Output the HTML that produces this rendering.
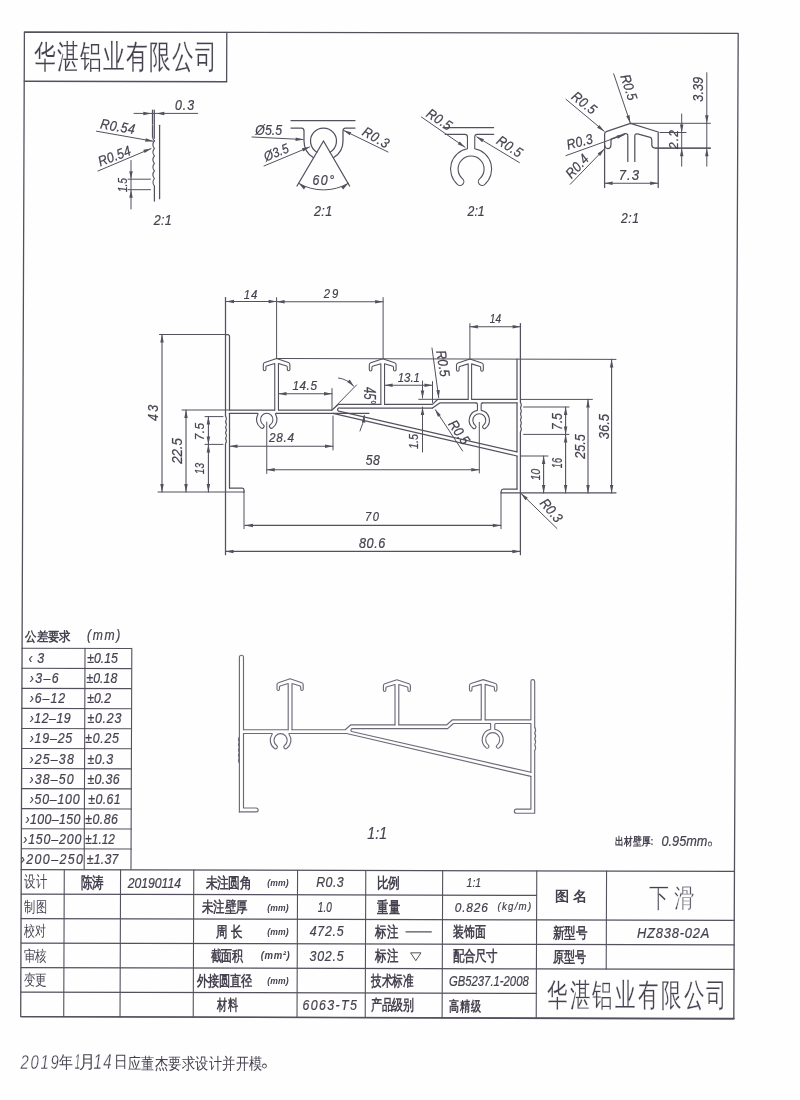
<!DOCTYPE html>
<html><head><meta charset="utf-8"><style>
html,body{margin:0;padding:0;background:#fefefe;}
svg{display:block;font-family:"Liberation Sans",sans-serif;}
</style></head><body>
<svg width="800" height="1100" viewBox="0 0 800 1100">
<rect width="800" height="1100" fill="#fefefe"/>
<g stroke-linecap="round">
<polygon points="24.4,32 738.2,33.3 733.8,1019 20.7,1016.6" fill="none" stroke="#55505e" stroke-width="1.3" stroke-linejoin="round"/>
<line x1="24.3" y1="81.25" x2="226.7" y2="81.75" stroke="#55505e" stroke-width="1.3"/>
<line x1="226.79" y1="32.4" x2="226.61" y2="81.5" stroke="#55505e" stroke-width="1.3"/>
<line x1="21.8" y1="648.25" x2="131.4" y2="648.53" stroke="#55505e" stroke-width="1.1"/>
<line x1="21.8" y1="668.3" x2="131.4" y2="668.58" stroke="#55505e" stroke-width="1.1"/>
<line x1="21.8" y1="688.35" x2="131.4" y2="688.63" stroke="#55505e" stroke-width="1.1"/>
<line x1="21.8" y1="708.4" x2="131.4" y2="708.68" stroke="#55505e" stroke-width="1.1"/>
<line x1="21.8" y1="728.45" x2="131.4" y2="728.73" stroke="#55505e" stroke-width="1.1"/>
<line x1="21.8" y1="748.5" x2="131.4" y2="748.78" stroke="#55505e" stroke-width="1.1"/>
<line x1="21.8" y1="768.55" x2="131.4" y2="768.83" stroke="#55505e" stroke-width="1.1"/>
<line x1="21.8" y1="788.6" x2="131.4" y2="788.88" stroke="#55505e" stroke-width="1.1"/>
<line x1="21.8" y1="808.65" x2="131.4" y2="808.93" stroke="#55505e" stroke-width="1.1"/>
<line x1="21.8" y1="828.7" x2="131.4" y2="828.98" stroke="#55505e" stroke-width="1.1"/>
<line x1="21.8" y1="848.75" x2="131.4" y2="849.03" stroke="#55505e" stroke-width="1.1"/>
<line x1="85.02" y1="648.4" x2="84.18" y2="869" stroke="#55505e" stroke-width="1.1"/>
<line x1="131.82" y1="648.4" x2="130.98" y2="869" stroke="#55505e" stroke-width="1.1"/>
<line x1="21.2" y1="869.6" x2="734.2" y2="871.38" stroke="#55505e" stroke-width="1.3"/>
<line x1="21.2" y1="1016.6" x2="734.2" y2="1018.38" stroke="#55505e" stroke-width="1.3"/>
<line x1="21.2" y1="894.1" x2="536.5" y2="895.39" stroke="#55505e" stroke-width="1.25"/>
<line x1="21.2" y1="918.6" x2="536.5" y2="919.89" stroke="#55505e" stroke-width="1.25"/>
<line x1="21.2" y1="943.1" x2="536.5" y2="944.39" stroke="#55505e" stroke-width="1.25"/>
<line x1="21.2" y1="967.6" x2="536.5" y2="968.89" stroke="#55505e" stroke-width="1.25"/>
<line x1="21.2" y1="992.1" x2="536.5" y2="993.39" stroke="#55505e" stroke-width="1.25"/>
<line x1="536.5" y1="919.89" x2="734.2" y2="920.38" stroke="#55505e" stroke-width="1.25"/>
<line x1="536.5" y1="944.39" x2="734.2" y2="944.88" stroke="#55505e" stroke-width="1.25"/>
<line x1="536.5" y1="968.89" x2="734.2" y2="969.38" stroke="#55505e" stroke-width="1.25"/>
<line x1="64.28" y1="869.71" x2="63.72" y2="1016.71" stroke="#55505e" stroke-width="1.1"/>
<line x1="120.58" y1="869.85" x2="120.02" y2="1016.85" stroke="#55505e" stroke-width="1.1"/>
<line x1="193.78" y1="870.03" x2="193.22" y2="1017.03" stroke="#55505e" stroke-width="1.1"/>
<line x1="297.58" y1="870.29" x2="297.02" y2="1017.29" stroke="#55505e" stroke-width="1.1"/>
<line x1="365.78" y1="870.46" x2="365.22" y2="1017.46" stroke="#55505e" stroke-width="1.1"/>
<line x1="442.67" y1="870.65" x2="442.12" y2="1017.65" stroke="#55505e" stroke-width="1.1"/>
<line x1="536.77" y1="870.89" x2="536.22" y2="1017.89" stroke="#55505e" stroke-width="1.1"/>
<line x1="606.57" y1="871.06" x2="606.2" y2="969.06" stroke="#55505e" stroke-width="1.1"/>
<line x1="406" y1="931.85" x2="431.3" y2="931.95" stroke="#55505e" stroke-width="1.25"/>
<polygon points="411,952.84 421,952.84 416,960.34" fill="none" stroke="#55505e" stroke-width="1.0" stroke-linejoin="round"/>
<line x1="134" y1="113.4" x2="197.7" y2="113.4" stroke="#55505e" stroke-width="1.0"/>
<polygon points="151.3,113.4 143.3,115.15 143.3,111.65" fill="#55505e"/>
<polygon points="156.3,113.4 164.3,111.65 164.3,115.15" fill="#55505e"/>
<line x1="152.5" y1="110" x2="152.5" y2="124.2" stroke="#55505e" stroke-width="1.25"/>
<line x1="152.5" y1="125.6" x2="152.5" y2="136.3" stroke="#55505e" stroke-width="1.25"/>
<line x1="154.3" y1="110" x2="154.3" y2="138.2" stroke="#55505e" stroke-width="1.25"/>
<path d="M152.5,136.3 Q152.7,139.5 154.4,140.8" fill="none" stroke="#55505e" stroke-width="1.25" stroke-linejoin="round" stroke-linecap="round"/>
<line x1="159.6" y1="125.3" x2="159.6" y2="198.7" stroke="#55505e" stroke-width="1.25"/>
<path d="M154.4,140.8 Q151.4,144.57 154.4,148.33 Q151.4,152.1 154.4,155.87 Q151.4,159.63 154.4,163.4 Q151.4,167.17 154.4,170.93 Q151.4,174.7 154.4,178.47 Q151.4,182.23 154.4,186" fill="none" stroke="#55505e" stroke-width="1.1" stroke-linejoin="round" stroke-linecap="round"/>
<line x1="154.4" y1="186" x2="154.4" y2="201" stroke="#55505e" stroke-width="1.25"/>
<line x1="96.5" y1="131.2" x2="153" y2="141.2" stroke="#55505e" stroke-width="1.0"/>
<polygon points="153.4,141.3 145.22,141.67 145.81,138.22" fill="#55505e"/>
<line x1="98" y1="171" x2="151" y2="148.6" stroke="#55505e" stroke-width="1.0"/>
<polygon points="151.4,148.5 144.6,153.07 143.32,149.81" fill="#55505e"/>
<line x1="131" y1="160.5" x2="131" y2="209" stroke="#55505e" stroke-width="1.0"/>
<polygon points="131,179.2 129.25,171.2 132.75,171.2" fill="#55505e"/>
<polygon points="131,189.7 132.75,197.7 129.25,197.7" fill="#55505e"/>
<line x1="128" y1="179.2" x2="150.5" y2="179.2" stroke="#55505e" stroke-width="1.0"/>
<line x1="128" y1="189.7" x2="150.5" y2="189.7" stroke="#55505e" stroke-width="1.0"/>
<line x1="291" y1="120.5" x2="355" y2="120.5" stroke="#55505e" stroke-width="1.25"/>
<path d="M291,128 H301.5 Q304,128 304,131 V141 A19.5,19.5 0 0 0 313.6,157.8" fill="none" stroke="#55505e" stroke-width="1.25" stroke-linejoin="round" stroke-linecap="round"/>
<path d="M355,128 H345.5 Q343,128 343,131 V141 A19.5,19.5 0 0 1 333.4,157.8" fill="none" stroke="#55505e" stroke-width="1.25" stroke-linejoin="round" stroke-linecap="round"/>
<path d="M316.9,152.2 A13,13 0 1 1 330.1,152.2" fill="none" stroke="#55505e" stroke-width="1.25" stroke-linejoin="round" stroke-linecap="round"/>
<line x1="323.5" y1="141" x2="297" y2="186" stroke="#55505e" stroke-width="1.25"/>
<line x1="323.5" y1="141" x2="349.6" y2="186" stroke="#55505e" stroke-width="1.25"/>
<path d="M298.63,183.22 A49,49 0 0 0 348.37,183.22" fill="none" stroke="#55505e" stroke-width="1.0" stroke-linejoin="round" stroke-linecap="round"/>
<polygon points="298.63,183.22 306,186.79 303.84,189.54" fill="#55505e"/>
<polygon points="348.37,183.22 343.16,189.54 341,186.79" fill="#55505e"/>
<line x1="252" y1="137" x2="303" y2="139.5" stroke="#55505e" stroke-width="1.0"/>
<polygon points="303.6,139.6 295.52,140.93 295.7,137.44" fill="#55505e"/>
<line x1="264" y1="166" x2="309.5" y2="147" stroke="#55505e" stroke-width="1.0"/>
<polygon points="310,146.8 303.26,151.45 301.93,148.21" fill="#55505e"/>
<line x1="388" y1="152" x2="344" y2="130.6" stroke="#55505e" stroke-width="1.0"/>
<polygon points="343.3,130.3 351.26,132.21 349.74,135.36" fill="#55505e"/>
<line x1="443" y1="127.5" x2="493.6" y2="127.5" stroke="#55505e" stroke-width="1.25"/>
<path d="M464.85,134.4 Q467.45,134.4 467.45,137 V148.73 A20.6,20.6 0 0 0 457.59,184.55 A3.8,3.8 0 0 0 462.57,178.81 A13,13 0 1 1 479.63,178.81 A3.8,3.8 0 0 0 484.61,184.55 A20.6,20.6 0 0 0 474.75,148.73 V137 Q474.75,134.4 477.35,134.4" fill="none" stroke="#55505e" stroke-width="1.1" stroke-linejoin="round" stroke-linecap="round"/>
<line x1="445.3" y1="134.4" x2="464.55" y2="134.4" stroke="#55505e" stroke-width="1.25"/>
<line x1="477.5" y1="134.4" x2="493.6" y2="134.4" stroke="#55505e" stroke-width="1.25"/>
<line x1="421.4" y1="117" x2="465" y2="147.2" stroke="#55505e" stroke-width="1.0"/>
<polygon points="465.3,147.4 457.72,144.31 459.7,141.42" fill="#55505e"/>
<line x1="519.4" y1="162.6" x2="477" y2="137" stroke="#55505e" stroke-width="1.0"/>
<polygon points="476.2,136.6 483.96,139.23 482.15,142.23" fill="#55505e"/>
<path d="M604.6,187.5 V134.2 Q604.6,132 606.8,131.3 L630.5,123.3 L658.2,132 V187.5" fill="none" stroke="#55505e" stroke-width="1.25" stroke-linejoin="round" stroke-linecap="round"/>
<path d="M604.6,144.8 Q605,148.6 607.8,148.6 Q610.8,148.6 611,144.5 V139.2 L625,133.6 Q627.8,133.2 627.8,136 V161.4" fill="none" stroke="#55505e" stroke-width="1.25" stroke-linejoin="round" stroke-linecap="round"/>
<path d="M634.8,161.4 V136 Q634.8,133.3 637.6,133.9 L650.3,137.4 Q651.6,137.9 651.8,140 V145.4 Q652.4,148.2 655.6,148.2 H710.4" fill="none" stroke="#55505e" stroke-width="1.25" stroke-linejoin="round" stroke-linecap="round"/>
<line x1="630.5" y1="123.3" x2="710.4" y2="123.3" stroke="#55505e" stroke-width="1.0"/>
<line x1="660" y1="132.5" x2="686" y2="132.5" stroke="#55505e" stroke-width="1.0"/>
<line x1="566" y1="99.3" x2="604.2" y2="131.2" stroke="#55505e" stroke-width="1.0"/>
<polygon points="604.4,131.4 597.11,127.67 599.33,124.97" fill="#55505e"/>
<line x1="613.7" y1="73.8" x2="630.3" y2="123" stroke="#55505e" stroke-width="1.0"/>
<polygon points="630.4,123.2 626.21,116.16 629.53,115.06" fill="#55505e"/>
<line x1="566" y1="155.6" x2="624.5" y2="134.6" stroke="#55505e" stroke-width="1.0"/>
<polygon points="624.8,134.5 617.87,138.86 616.68,135.57" fill="#55505e"/>
<line x1="570.2" y1="184.3" x2="604.2" y2="149.2" stroke="#55505e" stroke-width="1.0"/>
<polygon points="604.4,149 600.07,155.95 597.57,153.51" fill="#55505e"/>
<line x1="604.6" y1="183.2" x2="658.2" y2="183.2" stroke="#55505e" stroke-width="1.1"/>
<polygon points="604.6,183.2 612.6,181.45 612.6,184.95" fill="#55505e"/>
<polygon points="658.2,183.2 650.2,184.95 650.2,181.45" fill="#55505e"/>
<line x1="706.8" y1="72.7" x2="706.8" y2="166.2" stroke="#55505e" stroke-width="1.0"/>
<polygon points="706.8,123.3 705.05,115.3 708.55,115.3" fill="#55505e"/>
<polygon points="706.8,148.2 708.55,156.2 705.05,156.2" fill="#55505e"/>
<line x1="655.6" y1="148.2" x2="710.4" y2="148.2" stroke="#55505e" stroke-width="1.0"/>
<line x1="681.7" y1="114" x2="681.7" y2="166.2" stroke="#55505e" stroke-width="1.0"/>
<polygon points="681.7,132.5 679.95,124.5 683.45,124.5" fill="#55505e"/>
<polygon points="681.7,148.2 683.45,156.2 679.95,156.2" fill="#55505e"/>
<line x1="225.5" y1="297.6" x2="225.5" y2="416" stroke="#55505e" stroke-width="1.25"/>
<path d="M225.5,416 Q227.3,418.8 225.5,421.6 Q227.3,424.4 225.5,427.2 Q227.3,430 225.5,432.8 Q227.3,435.6 225.5,438.4 Q227.3,441.2 225.5,444" fill="none" stroke="#55505e" stroke-width="1.1" stroke-linejoin="round" stroke-linecap="round"/>
<line x1="225.5" y1="444" x2="225.5" y2="554.7" stroke="#55505e" stroke-width="1.25"/>
<path d="M225.5,334.5 H227.6 Q229.5,334.5 229.5,336.6 V410" fill="none" stroke="#55505e" stroke-width="1.25" stroke-linejoin="round" stroke-linecap="round"/>
<line x1="229.5" y1="413.3" x2="229.5" y2="488" stroke="#55505e" stroke-width="1.25"/>
<path d="M229.5,488 H242.2 Q244,488.2 244,490 V492" fill="none" stroke="#55505e" stroke-width="1.25" stroke-linejoin="round" stroke-linecap="round"/>
<line x1="244" y1="492" x2="244" y2="528.7" stroke="#55505e" stroke-width="1.0"/>
<line x1="158" y1="492" x2="244" y2="492" stroke="#55505e" stroke-width="1.0"/>
<line x1="159.5" y1="334.5" x2="225.5" y2="334.5" stroke="#55505e" stroke-width="1.0"/>
<line x1="229.5" y1="410" x2="274.8" y2="410" stroke="#55505e" stroke-width="1.25"/>
<path d="M278.5,410 H332 L338.5,404.4 H380.8" fill="none" stroke="#55505e" stroke-width="1.25" stroke-linejoin="round" stroke-linecap="round"/>
<path d="M257.09,413.3 Q258.59,413.3 257.87,414.39 A10.25,10.25 0 0 0 260.87,427.9 A2.02,2.02 0 0 0 263.19,424.58 A6.2,6.2 0 1 1 270.31,424.58 A2.02,2.02 0 0 0 272.63,427.9 A10.25,10.25 0 0 0 275.63,414.39 Q274.91,413.3 276.41,413.3" fill="none" stroke="#55505e" stroke-width="1.1" stroke-linejoin="round" stroke-linecap="round"/>
<line x1="229.5" y1="413.3" x2="257.09" y2="413.3" stroke="#55505e" stroke-width="1.25"/>
<line x1="276.41" y1="413.3" x2="369" y2="413.3" stroke="#55505e" stroke-width="1.25"/>
<line x1="333" y1="413.3" x2="517" y2="456" stroke="#55505e" stroke-width="1.25"/>
<path d="M432.5,408 H340 A1.7,1.7 0 0 0 338.7,411.2 L517,451.9" fill="none" stroke="#55505e" stroke-width="1.25" stroke-linejoin="round" stroke-linecap="round"/>
<path d="M384.6,404.4 H432.5 L437.8,399.3 H468.1" fill="none" stroke="#55505e" stroke-width="1.25" stroke-linejoin="round" stroke-linecap="round"/>
<line x1="471.7" y1="399.3" x2="517" y2="399.3" stroke="#55505e" stroke-width="1.25"/>
<path d="M432.5,408 L439.7,402.9 H476" fill="none" stroke="#55505e" stroke-width="1.25" stroke-linejoin="round" stroke-linecap="round"/>
<path d="M476.05,402.9 Q477.45,402.9 477.45,404.3 V410.37 A10.1,10.1 0 0 0 473.08,428.26 A1.8,1.8 0 0 0 475.3,425.42 A6.5,6.5 0 1 1 483.3,425.42 A1.8,1.8 0 0 0 485.52,428.26 A10.1,10.1 0 0 0 481.15,410.37 V404.3 Q481.15,402.9 482.55,402.9" fill="none" stroke="#55505e" stroke-width="1.1" stroke-linejoin="round" stroke-linecap="round"/>
<line x1="482.55" y1="402.9" x2="517" y2="402.9" stroke="#55505e" stroke-width="1.25"/>
<path d="M274.75,410 V363.5 L266.5,366.1 Q265.9,366.4 265.9,367.5 V369.3 Q265.9,370.8 264.6,370.8 Q263.3,370.8 263.3,369.3 V364.7 Q263.3,363.1 264.8,362.6 L276.6,358.5 L288.4,362.6 Q289.9,363.1 289.9,364.7 V369.3 Q289.9,370.8 288.6,370.8 Q287.3,370.8 287.3,369.3 V367.5 Q287.3,366.4 286.7,366.1 L278.45,363.5 V410" fill="none" stroke="#55505e" stroke-width="1.1" stroke-linejoin="round" stroke-linecap="round"/>
<path d="M380.85,404.4 V363.7 L372.5,366.3 Q371.9,366.6 371.9,367.7 V369.5 Q371.9,371 370.6,371 Q369.3,371 369.3,369.5 V364.9 Q369.3,363.3 370.8,362.8 L382.7,358.7 L394.6,362.8 Q396.1,363.3 396.1,364.9 V369.5 Q396.1,371 394.8,371 Q393.5,371 393.5,369.5 V367.7 Q393.5,366.6 392.9,366.3 L384.55,363.7 V404.4" fill="none" stroke="#55505e" stroke-width="1.1" stroke-linejoin="round" stroke-linecap="round"/>
<path d="M468.2,399.3 V363.9 L459.7,366.5 Q459.1,366.8 459.1,367.9 V369.7 Q459.1,371.2 457.8,371.2 Q456.5,371.2 456.5,369.7 V365.1 Q456.5,363.5 458,363 L469.9,358.9 L481.8,363 Q483.3,363.5 483.3,365.1 V369.7 Q483.3,371.2 482,371.2 Q480.7,371.2 480.7,369.7 V367.9 Q480.7,366.8 480.1,366.5 L471.6,363.9 V399.3" fill="none" stroke="#55505e" stroke-width="1.1" stroke-linejoin="round" stroke-linecap="round"/>
<line x1="276.6" y1="358.5" x2="616" y2="359.4" stroke="#55505e" stroke-width="1.0"/>
<line x1="517" y1="359" x2="517" y2="399.3" stroke="#55505e" stroke-width="1.25"/>
<line x1="517" y1="402.9" x2="517" y2="451.9" stroke="#55505e" stroke-width="1.25"/>
<line x1="517" y1="456" x2="517" y2="489" stroke="#55505e" stroke-width="1.25"/>
<line x1="520.4" y1="323.6" x2="520.4" y2="402" stroke="#55505e" stroke-width="1.25"/>
<path d="M520.4,402 Q522.2,405 520.4,408 Q522.2,411 520.4,414 Q522.2,417 520.4,420 Q522.2,423 520.4,426 Q522.2,429 520.4,432" fill="none" stroke="#55505e" stroke-width="1.1" stroke-linejoin="round" stroke-linecap="round"/>
<line x1="520.4" y1="432" x2="520.4" y2="554.7" stroke="#55505e" stroke-width="1.25"/>
<path d="M517,489 H503.4 Q501.5,489 501.2,491 L501,492.8 H616" fill="none" stroke="#55505e" stroke-width="1.25" stroke-linejoin="round" stroke-linecap="round"/>
<line x1="501" y1="492.8" x2="501" y2="528.7" stroke="#55505e" stroke-width="1.0"/>
<line x1="276.6" y1="297.6" x2="276.6" y2="358.5" stroke="#55505e" stroke-width="1.0"/>
<line x1="383.1" y1="297.6" x2="383.1" y2="358.7" stroke="#55505e" stroke-width="1.0"/>
<line x1="469.9" y1="323.6" x2="469.9" y2="358.9" stroke="#55505e" stroke-width="1.0"/>
<line x1="226" y1="301.5" x2="276.6" y2="301.5" stroke="#55505e" stroke-width="1.1"/>
<polygon points="226,301.5 234,299.75 234,303.25" fill="#55505e"/>
<polygon points="276.6,301.5 268.6,303.25 268.6,299.75" fill="#55505e"/>
<line x1="276.6" y1="301.8" x2="383.1" y2="301.8" stroke="#55505e" stroke-width="1.1"/>
<polygon points="276.6,301.8 284.6,300.05 284.6,303.55" fill="#55505e"/>
<polygon points="383.1,301.8 375.1,303.55 375.1,300.05" fill="#55505e"/>
<line x1="469.9" y1="326.7" x2="520.6" y2="326.7" stroke="#55505e" stroke-width="1.1"/>
<polygon points="469.9,326.7 477.9,324.95 477.9,328.45" fill="#55505e"/>
<polygon points="520.6,326.7 512.6,328.45 512.6,324.95" fill="#55505e"/>
<line x1="162" y1="334.5" x2="162" y2="492" stroke="#55505e" stroke-width="1.1"/>
<polygon points="162,334.5 163.75,342.5 160.25,342.5" fill="#55505e"/>
<polygon points="162,492 160.25,484 163.75,484" fill="#55505e"/>
<line x1="186" y1="410" x2="186" y2="492" stroke="#55505e" stroke-width="1.1"/>
<polygon points="186,410 187.75,418 184.25,418" fill="#55505e"/>
<polygon points="186,492 184.25,484 187.75,484" fill="#55505e"/>
<line x1="182" y1="410" x2="229.5" y2="410" stroke="#55505e" stroke-width="1.0"/>
<line x1="208.4" y1="416.6" x2="208.4" y2="444.4" stroke="#55505e" stroke-width="1.1"/>
<polygon points="208.4,416.6 210.15,424.6 206.65,424.6" fill="#55505e"/>
<polygon points="208.4,444.4 206.65,436.4 210.15,436.4" fill="#55505e"/>
<line x1="208.4" y1="444.4" x2="208.4" y2="492" stroke="#55505e" stroke-width="1.1"/>
<polygon points="208.4,444.4 210.15,452.4 206.65,452.4" fill="#55505e"/>
<polygon points="208.4,492 206.65,484 210.15,484" fill="#55505e"/>
<line x1="205" y1="416.6" x2="223" y2="416.6" stroke="#55505e" stroke-width="1.0"/>
<line x1="205" y1="444.4" x2="223" y2="444.4" stroke="#55505e" stroke-width="1.0"/>
<line x1="278.5" y1="393.7" x2="332" y2="393.7" stroke="#55505e" stroke-width="1.1"/>
<polygon points="278.5,393.7 286.5,391.95 286.5,395.45" fill="#55505e"/>
<polygon points="332,393.7 324,395.45 324,391.95" fill="#55505e"/>
<line x1="332" y1="388.6" x2="332" y2="410" stroke="#55505e" stroke-width="1.0"/>
<line x1="332" y1="410" x2="356.5" y2="385" stroke="#55505e" stroke-width="1.0"/>
<path d="M338.5,378 Q347.5,379.2 353.6,386" fill="none" stroke="#55505e" stroke-width="1.0" stroke-linejoin="round" stroke-linecap="round"/>
<polygon points="354,386.5 347.2,381.93 349.73,379.51" fill="#55505e"/>
<path d="M360,431 Q363.2,424 364.3,415.5" fill="none" stroke="#55505e" stroke-width="1.0" stroke-linejoin="round" stroke-linecap="round"/>
<polygon points="364.4,414.5 365.29,422.64 361.81,422.27" fill="#55505e"/>
<line x1="384.6" y1="385.2" x2="432.5" y2="385.2" stroke="#55505e" stroke-width="1.1"/>
<polygon points="384.6,385.2 392.6,383.45 392.6,386.95" fill="#55505e"/>
<polygon points="432.5,385.2 424.5,386.95 424.5,383.45" fill="#55505e"/>
<line x1="432.5" y1="381.6" x2="432.5" y2="402.5" stroke="#55505e" stroke-width="1.0"/>
<line x1="422.5" y1="381" x2="422.5" y2="398" stroke="#55505e" stroke-width="1.0"/>
<polygon points="422.5,398.6 420.75,390.6 424.25,390.6" fill="#55505e"/>
<line x1="422.5" y1="407" x2="422.5" y2="452" stroke="#55505e" stroke-width="1.0"/>
<polygon points="422.5,406.9 424.25,414.9 420.75,414.9" fill="#55505e"/>
<line x1="418.75" y1="399.3" x2="437.8" y2="399.3" stroke="#55505e" stroke-width="1.0"/>
<line x1="432" y1="348" x2="438.7" y2="397.6" stroke="#55505e" stroke-width="1.0"/>
<polygon points="438.75,398.1 436.34,390.27 439.82,389.98" fill="#55505e"/>
<line x1="435.4" y1="409.8" x2="462.6" y2="451" stroke="#55505e" stroke-width="1.0"/>
<polygon points="435,409.2 440.83,414.95 437.9,416.86" fill="#55505e"/>
<line x1="520.4" y1="399.4" x2="592.4" y2="399.4" stroke="#55505e" stroke-width="1.0"/>
<line x1="523.6" y1="407" x2="569" y2="407" stroke="#55505e" stroke-width="1.0"/>
<line x1="523.6" y1="434.4" x2="569" y2="434.4" stroke="#55505e" stroke-width="1.0"/>
<line x1="520.4" y1="456" x2="548" y2="456" stroke="#55505e" stroke-width="1.0"/>
<line x1="611.6" y1="359.4" x2="611.6" y2="493" stroke="#55505e" stroke-width="1.1"/>
<polygon points="611.6,359.4 613.35,367.4 609.85,367.4" fill="#55505e"/>
<polygon points="611.6,493 609.85,485 613.35,485" fill="#55505e"/>
<line x1="588" y1="399.4" x2="588" y2="493" stroke="#55505e" stroke-width="1.1"/>
<polygon points="588,399.4 589.75,407.4 586.25,407.4" fill="#55505e"/>
<polygon points="588,493 586.25,485 589.75,485" fill="#55505e"/>
<line x1="565.6" y1="407" x2="565.6" y2="434.4" stroke="#55505e" stroke-width="1.1"/>
<polygon points="565.6,407 567.35,415 563.85,415" fill="#55505e"/>
<polygon points="565.6,434.4 563.85,426.4 567.35,426.4" fill="#55505e"/>
<line x1="565.6" y1="434.4" x2="565.6" y2="493" stroke="#55505e" stroke-width="1.1"/>
<polygon points="565.6,434.4 567.35,442.4 563.85,442.4" fill="#55505e"/>
<polygon points="565.6,493 563.85,485 567.35,485" fill="#55505e"/>
<line x1="543.6" y1="456" x2="543.6" y2="493" stroke="#55505e" stroke-width="1.1"/>
<polygon points="543.6,456 545.35,464 541.85,464" fill="#55505e"/>
<polygon points="543.6,493 541.85,485 545.35,485" fill="#55505e"/>
<line x1="520.8" y1="493.2" x2="557" y2="528.5" stroke="#55505e" stroke-width="1.0"/>
<polygon points="520.9,493.3 527.83,497.67 525.37,500.16" fill="#55505e"/>
<line x1="229.5" y1="446.2" x2="333" y2="446.2" stroke="#55505e" stroke-width="1.1"/>
<polygon points="229.5,446.2 237.5,444.45 237.5,447.95" fill="#55505e"/>
<polygon points="333,446.2 325,447.95 325,444.45" fill="#55505e"/>
<line x1="333" y1="416" x2="333" y2="450" stroke="#55505e" stroke-width="1.0"/>
<line x1="266.75" y1="469.7" x2="479.25" y2="469.7" stroke="#55505e" stroke-width="1.1"/>
<polygon points="266.75,469.7 274.75,467.95 274.75,471.45" fill="#55505e"/>
<polygon points="479.25,469.7 471.25,471.45 471.25,467.95" fill="#55505e"/>
<line x1="266.75" y1="422" x2="266.75" y2="473.5" stroke="#55505e" stroke-width="1.0"/>
<line x1="479.3" y1="422.3" x2="479.3" y2="473" stroke="#55505e" stroke-width="1.0"/>
<line x1="245" y1="525.4" x2="500.8" y2="525.4" stroke="#55505e" stroke-width="1.1"/>
<polygon points="245,525.4 253,523.65 253,527.15" fill="#55505e"/>
<polygon points="500.8,525.4 492.8,527.15 492.8,523.65" fill="#55505e"/>
<line x1="225.5" y1="551.4" x2="520.4" y2="551.4" stroke="#55505e" stroke-width="1.1"/>
<polygon points="225.5,551.4 233.5,549.65 233.5,553.15" fill="#55505e"/>
<polygon points="520.4,551.4 512.4,553.15 512.4,549.65" fill="#55505e"/>
<path d="M239.4,811.9 V737" fill="none" stroke="#6e6979" stroke-width="1.15" stroke-linejoin="round" stroke-linecap="round"/>
<path d="M239.4,737 Q237.6,739.6 239.4,742.2 Q237.6,744.8 239.4,747.4 Q237.6,750 239.4,752.6 Q237.6,755.2 239.4,757.8 Q237.6,760.4 239.4,763" fill="none" stroke="#6e6979" stroke-width="1.15" stroke-linejoin="round" stroke-linecap="round"/>
<path d="M239.4,737 V657.3 A2.05,2.05 0 0 1 243.5,657.3 V729.7" fill="none" stroke="#6e6979" stroke-width="1.15" stroke-linejoin="round" stroke-linecap="round"/>
<path d="M243.5,733.5 V808 H256.2 A1.95,1.95 0 0 1 256.2,811.9 H239.4" fill="none" stroke="#6e6979" stroke-width="1.15" stroke-linejoin="round" stroke-linecap="round"/>
<path d="M243.5,729.7 H288.2" fill="none" stroke="#6e6979" stroke-width="1.15" stroke-linejoin="round" stroke-linecap="round"/>
<path d="M288.2,729.7 V683.55 L280.04,686.02 Q279.47,686.3 279.47,687.35 V689.06 Q279.47,690.48 278.24,690.48 Q277,690.48 277,689.06 V684.69 Q277,683.17 278.43,682.69 L290.1,678.8 L301.78,682.69 Q303.2,683.17 303.2,684.69 V689.06 Q303.2,690.48 301.97,690.48 Q300.73,690.48 300.73,689.06 V687.35 Q300.73,686.3 300.16,686.02 L292,683.55 V729.7" fill="none" stroke="#6e6979" stroke-width="1.15" stroke-linejoin="round" stroke-linecap="round"/>
<path d="M292,729.7 H345.2 L350.8,724.8 H395" fill="none" stroke="#6e6979" stroke-width="1.15" stroke-linejoin="round" stroke-linecap="round"/>
<path d="M271.51,733.5 Q272.71,733.5 272.11,734.28 A10.35,10.35 0 0 0 274.52,748.57 A1.88,1.88 0 0 0 276.72,745.54 A6.6,6.6 0 1 1 284.48,745.54 A1.88,1.88 0 0 0 286.68,748.57 A10.35,10.35 0 0 0 289.09,734.28 Q288.49,733.5 289.69,733.5" fill="none" stroke="#6e6979" stroke-width="1.15" stroke-linejoin="round" stroke-linecap="round"/>
<line x1="243.5" y1="733.5" x2="271.51" y2="733.5" stroke="#6e6979" stroke-width="1.15"/>
<path d="M289.69,733.5 H346.6 L530.9,776.4" fill="none" stroke="#6e6979" stroke-width="1.15" stroke-linejoin="round" stroke-linecap="round"/>
<path d="M447.6,728.6 H352.6 A1.6,1.6 0 0 0 351.6,731.5 L530.9,772.3" fill="none" stroke="#6e6979" stroke-width="1.15" stroke-linejoin="round" stroke-linecap="round"/>
<path d="M395,724.8 V684.55 L386.44,687.02 Q385.87,687.3 385.87,688.35 V690.06 Q385.87,691.48 384.63,691.48 Q383.4,691.48 383.4,690.06 V685.69 Q383.4,684.17 384.82,683.69 L396.9,679.8 L408.97,683.69 Q410.4,684.17 410.4,685.69 V690.06 Q410.4,691.48 409.16,691.48 Q407.93,691.48 407.93,690.06 V688.35 Q407.93,687.3 407.36,687.02 L398.8,684.55 V724.8" fill="none" stroke="#6e6979" stroke-width="1.15" stroke-linejoin="round" stroke-linecap="round"/>
<path d="M398.8,724.8 H446.9 L452.5,719.8 H481.1" fill="none" stroke="#6e6979" stroke-width="1.15" stroke-linejoin="round" stroke-linecap="round"/>
<path d="M481.25,719.8 V684.35 L472.54,686.82 Q471.97,687.11 471.97,688.15 V689.86 Q471.97,691.28 470.74,691.28 Q469.5,691.28 469.5,689.86 V685.49 Q469.5,683.97 470.93,683.5 L483.2,679.6 L495.47,683.5 Q496.9,683.97 496.9,685.49 V689.86 Q496.9,691.28 495.66,691.28 Q494.43,691.28 494.43,689.86 V688.15 Q494.43,687.11 493.86,686.82 L485.15,684.35 V719.8" fill="none" stroke="#6e6979" stroke-width="1.15" stroke-linejoin="round" stroke-linecap="round"/>
<path d="M485.1,719.8 H530.9 V681.5 A1.9,1.9 0 0 1 534.7,681.5 V727.3" fill="none" stroke="#6e6979" stroke-width="1.15" stroke-linejoin="round" stroke-linecap="round"/>
<path d="M534.7,727.3 Q536.5,730.2 534.7,733.1 Q536.5,736 534.7,738.9 Q536.5,741.8 534.7,744.7 Q536.5,747.6 534.7,750.5" fill="none" stroke="#6e6979" stroke-width="1.15" stroke-linejoin="round" stroke-linecap="round"/>
<path d="M534.7,750.5 V813.2 H516.4 A2.05,2.05 0 0 1 516.4,809.1 H530.9 V776.4" fill="none" stroke="#6e6979" stroke-width="1.15" stroke-linejoin="round" stroke-linecap="round"/>
<path d="M447.6,728.6 L453.4,723.5 H490.7" fill="none" stroke="#6e6979" stroke-width="1.15" stroke-linejoin="round" stroke-linecap="round"/>
<path d="M489.45,723.5 Q490.65,723.5 490.65,724.7 V729.3 A10.5,10.5 0 0 0 486.24,747.87 A1.75,1.75 0 0 0 488.39,745.12 A7,7 0 1 1 497.01,745.12 A1.75,1.75 0 0 0 499.16,747.87 A10.5,10.5 0 0 0 494.75,729.3 V724.7 Q494.75,723.5 495.95,723.5" fill="none" stroke="#6e6979" stroke-width="1.15" stroke-linejoin="round" stroke-linecap="round"/>
<path d="M495.95,723.5 H530.9 V772.3" fill="none" stroke="#6e6979" stroke-width="1.15" stroke-linejoin="round" stroke-linecap="round"/>
</g>
<g style="will-change:transform">
<text transform="translate(123 56.55) translate(-89.22 11.35) scale(0.660 1)" font-size="32.89" letter-spacing="1.79" stroke="#fefefe" stroke-width="0.2" fill="#46414f">华湛铝业有限公司</text>
<text transform="translate(47.35 636.35) translate(-22.02 4.34) scale(0.882 1)" font-size="12.57" font-weight="bold" fill="#46414f">公差要求</text>
<text transform="translate(103.65 636.5) translate(-16.54 3.6) scale(0.880 1)" font-size="13.83" font-style="italic" letter-spacing="1.84" stroke="#46414f" stroke-width="0.22" fill="#46414f">(mm)</text>
<text transform="translate(36.5 658.4) translate(-8 4.86) scale(0.880 1)" font-size="14.08" font-style="italic" letter-spacing="5.17" stroke="#46414f" stroke-width="0.22" fill="#46414f">‹3</text>
<text transform="translate(102.8 658.4) translate(-15.57 4.86) scale(0.874 1)" font-size="14.08" font-style="italic" stroke="#46414f" stroke-width="0.22" fill="#46414f">±0.15</text>
<text transform="translate(44.27 678.45) translate(-14.47 4.86) scale(0.880 1)" font-size="14.08" font-style="italic" letter-spacing="1.55" stroke="#46414f" stroke-width="0.22" fill="#46414f">›3–6</text>
<text transform="translate(102.1 678.45) translate(-15.57 4.86) scale(0.874 1)" font-size="14.08" font-style="italic" stroke="#46414f" stroke-width="0.22" fill="#46414f">±0.18</text>
<text transform="translate(47.4 698.5) translate(-17.6 4.86) scale(0.880 1)" font-size="14.08" font-style="italic" letter-spacing="1.02" stroke="#46414f" stroke-width="0.22" fill="#46414f">›6–12</text>
<text transform="translate(99.3 698.5) translate(-12.07 4.86) scale(0.873 1)" font-size="14.08" font-style="italic" stroke="#46414f" stroke-width="0.22" fill="#46414f">±0.2</text>
<text transform="translate(50.15 718.55) translate(-20.45 4.86) scale(0.880 1)" font-size="14.08" font-style="italic" letter-spacing="0.57" stroke="#46414f" stroke-width="0.22" fill="#46414f">›12–19</text>
<text transform="translate(104.55 718.55) translate(-17.12 4.86) scale(0.880 1)" font-size="14.08" font-style="italic" letter-spacing="0.86" stroke="#46414f" stroke-width="0.22" fill="#46414f">±0.23</text>
<text transform="translate(51 738.6) translate(-21.3 4.86) scale(0.880 1)" font-size="14.08" font-style="italic" letter-spacing="0.90" stroke="#46414f" stroke-width="0.22" fill="#46414f">›19–25</text>
<text transform="translate(102.3 738.6) translate(-16.97 4.86) scale(0.880 1)" font-size="14.08" font-style="italic" letter-spacing="0.74" stroke="#46414f" stroke-width="0.22" fill="#46414f">±0.25</text>
<text transform="translate(51.65 758.65) translate(-22.25 4.86) scale(0.880 1)" font-size="14.08" font-style="italic" letter-spacing="1.33" stroke="#46414f" stroke-width="0.22" fill="#46414f">›25–38</text>
<text transform="translate(100.5 758.65) translate(-13.07 4.86) scale(0.880 1)" font-size="14.08" font-style="italic" letter-spacing="0.69" stroke="#46414f" stroke-width="0.22" fill="#46414f">±0.3</text>
<text transform="translate(51.5 778.7) translate(-22.1 4.86) scale(0.880 1)" font-size="14.08" font-style="italic" letter-spacing="1.29" stroke="#46414f" stroke-width="0.22" fill="#46414f">›38–50</text>
<text transform="translate(103.75 778.7) translate(-16.32 4.86) scale(0.880 1)" font-size="14.08" font-style="italic" letter-spacing="0.37" stroke="#46414f" stroke-width="0.22" fill="#46414f">±0.36</text>
<text transform="translate(54.65 798.75) translate(-24.95 4.86) scale(0.880 1)" font-size="14.08" font-style="italic" letter-spacing="0.85" stroke="#46414f" stroke-width="0.22" fill="#46414f">›50–100</text>
<text transform="translate(104.15 798.75) translate(-15.92 4.86) scale(0.880 1)" font-size="14.08" font-style="italic" letter-spacing="0.42" stroke="#46414f" stroke-width="0.22" fill="#46414f">±0.61</text>
<text transform="translate(53 818.8) translate(-27.4 4.86) scale(0.880 1)" font-size="14.08" font-style="italic" letter-spacing="0.41" stroke="#46414f" stroke-width="0.22" fill="#46414f">›100–150</text>
<text transform="translate(101.85 818.8) translate(-16.52 4.86) scale(0.880 1)" font-size="14.08" font-style="italic" letter-spacing="0.48" stroke="#46414f" stroke-width="0.22" fill="#46414f">±0.86</text>
<text transform="translate(52.25 838.85) translate(-29.05 4.86) scale(0.880 1)" font-size="14.08" font-style="italic" letter-spacing="0.94" stroke="#46414f" stroke-width="0.22" fill="#46414f">›150–200</text>
<text transform="translate(100.25 838.85) translate(-14.91 5) scale(0.828 1)" font-size="14.29" font-style="italic" stroke="#46414f" stroke-width="0.22" fill="#46414f">±1.12</text>
<text transform="translate(51.8 858.9) translate(-31.1 4.86) scale(0.880 1)" font-size="14.08" font-style="italic" letter-spacing="1.61" stroke="#46414f" stroke-width="0.22" fill="#46414f">›200–250</text>
<text transform="translate(102.95 858.9) translate(-16.32 4.86) scale(0.880 1)" font-size="14.08" font-style="italic" letter-spacing="0.26" stroke="#46414f" stroke-width="0.22" fill="#46414f">±1.37</text>
<text transform="translate(35 881.87) translate(-11 5.47) scale(0.715 1)" font-size="15.62" fill="#46414f">设计</text>
<text transform="translate(35 906.37) translate(-11 5.18) scale(0.749 1)" font-size="15.46" fill="#46414f">制图</text>
<text transform="translate(35 930.87) translate(-10.89 5.2) scale(0.730 1)" font-size="15.31" fill="#46414f">校对</text>
<text transform="translate(35 955.37) translate(-11.34 5.15) scale(0.771 1)" font-size="14.71" fill="#46414f">审核</text>
<text transform="translate(35 979.87) translate(-11.11 5.12) scale(0.764 1)" font-size="14.85" fill="#46414f">变更</text>
<text transform="translate(91.9 882.75) translate(-11.24 5.27) scale(0.721 1)" font-size="15.50" font-weight="bold" fill="#46414f">陈涛</text>
<text transform="translate(154.1 883) translate(-26.38 4.86) scale(0.865 1)" font-size="14.08" font-style="italic" stroke="#46414f" stroke-width="0.22" fill="#46414f">20190114</text>
<text transform="translate(227.75 882.35) translate(-22.02 5.29) scale(0.782 1)" font-size="14.71" font-weight="bold" fill="#46414f">未注圆角</text>
<text transform="translate(224.5 906.85) translate(-22.27 5.29) scale(0.765 1)" font-size="14.71" font-weight="bold" fill="#46414f">未注壁厚</text>
<text transform="translate(228.7 931.35) translate(-13.18 5.23) scale(0.767 1)" font-size="15.15" font-weight="bold" fill="#46414f">周 长</text>
<text transform="translate(226.95 955.85) translate(-16.33 4.98) scale(0.733 1)" font-size="14.85" font-weight="bold" fill="#46414f">截面积</text>
<text transform="translate(224.15 980.35) translate(-27.32 5.15) scale(0.749 1)" font-size="14.71" font-weight="bold" fill="#46414f">外接圆直径</text>
<text transform="translate(227.3 1004.85) translate(-9.9 5.1) scale(0.673 1)" font-size="15.00" font-weight="bold" fill="#46414f">材料</text>
<text transform="translate(278.05 883.74) translate(-10.71 2.35) scale(0.950 1)" font-size="9.04" font-style="italic" font-weight="bold" letter-spacing="0.13" fill="#46414f">(mm)</text>
<text transform="translate(278.05 908.24) translate(-10.71 2.35) scale(0.950 1)" font-size="9.04" font-style="italic" font-weight="bold" letter-spacing="0.13" fill="#46414f">(mm)</text>
<text transform="translate(278.05 932.74) translate(-10.71 2.35) scale(0.950 1)" font-size="9.04" font-style="italic" font-weight="bold" letter-spacing="0.13" fill="#46414f">(mm)</text>
<text transform="translate(278.05 981.74) translate(-10.71 2.35) scale(0.950 1)" font-size="9.04" font-style="italic" font-weight="bold" letter-spacing="0.13" fill="#46414f">(mm)</text>
<text transform="translate(275.3 955.99) translate(-14.59 2.77) scale(0.900 1)" font-size="10.64" font-style="italic" font-weight="bold" letter-spacing="0.70" fill="#46414f">(mm²)</text>
<text transform="translate(330.1 882.62) translate(-13.87 4.86) scale(0.880 1)" font-size="14.08" font-style="italic" letter-spacing="0.48" stroke="#46414f" stroke-width="0.22" fill="#46414f">R0.3</text>
<text transform="translate(324.85 907.12) translate(-7.05 4.86) scale(0.713 1)" font-size="14.08" font-style="italic" stroke="#46414f" stroke-width="0.22" fill="#46414f">1.0</text>
<text transform="translate(326.7 931.62) translate(-16.9 4.86) scale(0.880 1)" font-size="14.08" font-style="italic" letter-spacing="0.78" stroke="#46414f" stroke-width="0.22" fill="#46414f">472.5</text>
<text transform="translate(326.7 956.12) translate(-17.15 4.86) scale(0.880 1)" font-size="14.08" font-style="italic" letter-spacing="0.85" stroke="#46414f" stroke-width="0.22" fill="#46414f">302.5</text>
<text transform="translate(330 1005.12) translate(-27.62 4.86) scale(0.880 1)" font-size="14.08" font-style="italic" letter-spacing="1.59" stroke="#46414f" stroke-width="0.22" fill="#46414f">6063-T5</text>
<text transform="translate(388.25 882.77) translate(-11.65 5.1) scale(0.777 1)" font-size="15.00" font-weight="bold" fill="#46414f">比例</text>
<text transform="translate(388.25 907.27) translate(-10.95 6.08) scale(0.701 1)" font-size="15.79" font-weight="bold" fill="#46414f">重量</text>
<text transform="translate(386.3 931.77) translate(-10.85 5.17) scale(0.764 1)" font-size="14.56" font-weight="bold" fill="#46414f">标注</text>
<text transform="translate(386.3 956.27) translate(-10.85 5.17) scale(0.764 1)" font-size="14.56" font-weight="bold" fill="#46414f">标注</text>
<text transform="translate(391.7 980.77) translate(-20.78 5.12) scale(0.709 1)" font-size="14.85" font-weight="bold" fill="#46414f">技术标准</text>
<text transform="translate(391.7 1005.27) translate(-20.99 5.17) scale(0.732 1)" font-size="14.56" font-weight="bold" fill="#46414f">产品级别</text>
<text transform="translate(473.6 882.98) translate(-7.01 4.5) scale(0.806 1)" font-size="13.04" font-style="italic" stroke="#46414f" stroke-width="0.22" fill="#46414f">1:1</text>
<text transform="translate(471.6 907.32) translate(-16.88 4.66) scale(0.880 1)" font-size="13.52" font-style="italic" letter-spacing="0.98" stroke="#46414f" stroke-width="0.22" fill="#46414f">0.826</text>
<text transform="translate(514.25 907.32) translate(-16.84 2.66) scale(0.950 1)" font-size="10.21" font-style="italic" letter-spacing="1.33" stroke="#46414f" stroke-width="0.22" fill="#46414f">(kg/m)</text>
<text transform="translate(469.7 931.97) translate(-16.5 5.23) scale(0.731 1)" font-size="15.15" font-weight="bold" fill="#46414f">装饰面</text>
<text transform="translate(475.4 956.47) translate(-22.63 5) scale(0.769 1)" font-size="14.71" font-weight="bold" fill="#46414f">配合尺寸</text>
<text transform="translate(464.9 1005.47) translate(-15.71 5.19) scale(0.719 1)" font-size="14.42" font-weight="bold" fill="#46414f">高精级</text>
<text transform="translate(489.1 981.02) translate(-40.15 5.35) scale(0.730 1)" font-size="15.49" font-style="italic" stroke="#46414f" stroke-width="0.22" fill="#46414f">GB5237.1-2008</text>
<text transform="translate(570.5 896.7) translate(-15.19 4.79) scale(1.016 1)" font-size="13.67" font-weight="bold" fill="#46414f">图 名</text>
<text transform="translate(570 932.22) translate(-16.77 5.29) scale(0.771 1)" font-size="14.71" font-weight="bold" fill="#46414f">新型号</text>
<text transform="translate(570 956.72) translate(-16.77 5.2) scale(0.740 1)" font-size="15.31" font-weight="bold" fill="#46414f">原型号</text>
<text transform="translate(658.5 898.35) translate(-9.7 8.53) scale(0.739 1)" font-size="27.08" stroke="#fefefe" stroke-width="0.5" fill="#46414f">下</text>
<text transform="translate(683.75 898.35) translate(-9.96 8.72) scale(0.801 1)" font-size="25.64" stroke="#fefefe" stroke-width="0.5" fill="#46414f">滑</text>
<text transform="translate(673.15 933.5) translate(-36.24 4.86) scale(0.920 1)" font-size="14.08" font-style="italic" letter-spacing="0.87" stroke="#46414f" stroke-width="0.22" fill="#46414f">HZ838-02A</text>
<text transform="translate(635.75 994.5) translate(-88.96 11.17) scale(0.640 1)" font-size="32.37" letter-spacing="3.46" stroke="#fefefe" stroke-width="0.25" fill="#46414f">华湛铝业有限公司</text>
<text transform="translate(39.38 1061.5) translate(-18.98 7.29) scale(0.700 1)" font-size="21.13" font-style="italic" letter-spacing="2.59" stroke="#fefefe" stroke-width="0.3" fill="#46414f">2019</text>
<text transform="translate(66 1062) translate(-6.75 5.79) scale(0.826 1)" font-size="17.02" fill="#46414f">年</text>
<text transform="translate(77.25 1061.5) translate(-2.45 7.5) scale(0.450 1)" font-size="21.74" font-style="italic" stroke="#fefefe" stroke-width="0.3" fill="#46414f">1</text>
<text transform="translate(85.5 1062) translate(-6.65 5.69) scale(0.912 1)" font-size="17.78" fill="#46414f">月</text>
<text transform="translate(102.38 1061.5) translate(-8.93 7.5) scale(0.700 1)" font-size="21.43" font-style="italic" letter-spacing="2.01" stroke="#fefefe" stroke-width="0.3" fill="#46414f">14</text>
<text transform="translate(120 1062) translate(-6.49 4.98) scale(0.851 1)" font-size="15.56" fill="#46414f">日</text>
<text transform="translate(193.5 1063) translate(-65.76 5.6) scale(0.824 1)" font-size="16.00" fill="#46414f">应董杰要求设计并开模</text>
<text transform="translate(264.5 1065.5) translate(-4.38 -0) scale(0.917 1)" font-size="22.73" fill="#46414f">。</text>
<text transform="translate(117.8 126.5) rotate(10) translate(-17.37 4.86) scale(0.880 1)" font-size="14.08" font-style="italic" letter-spacing="0.50" stroke="#46414f" stroke-width="0.22" fill="#46414f">R0.54</text>
<text transform="translate(114.3 156) rotate(-21) translate(-16.87 4.86) scale(0.880 1)" font-size="14.08" font-style="italic" letter-spacing="0.21" stroke="#46414f" stroke-width="0.22" fill="#46414f">R0.54</text>
<text transform="translate(122.5 185) rotate(-90) translate(-7.36 4.37) scale(0.809 1)" font-size="12.86" font-style="italic" stroke="#46414f" stroke-width="0.22" fill="#46414f">1.5</text>
<text transform="translate(162.1 220) translate(-8.47 5) scale(0.880 1)" font-size="14.29" font-style="italic" letter-spacing="0.32" stroke="#46414f" stroke-width="0.22" fill="#46414f">2:1</text>
<text transform="translate(323.5 180) translate(-11.12 4.86) scale(0.880 1)" font-size="14.08" font-style="italic" letter-spacing="1.77" stroke="#46414f" stroke-width="0.22" fill="#46414f">60°</text>
<text transform="translate(268.5 130.25) translate(-13.13 4.83) scale(0.876 1)" font-size="14.00" font-style="italic" stroke="#46414f" stroke-width="0.22" fill="#46414f">Ø5.5</text>
<text transform="translate(276 152.5) rotate(-22) translate(-12.65 4.6) scale(0.880 1)" font-size="13.33" font-style="italic" letter-spacing="0.06" stroke="#46414f" stroke-width="0.22" fill="#46414f">Ø3.5</text>
<text transform="translate(376 137.5) rotate(30) translate(-14.37 4.86) scale(0.880 1)" font-size="14.08" font-style="italic" letter-spacing="0.86" stroke="#46414f" stroke-width="0.22" fill="#46414f">R0.3</text>
<text transform="translate(322.5 211.25) translate(-8.62 5) scale(0.880 1)" font-size="14.29" font-style="italic" letter-spacing="0.49" stroke="#46414f" stroke-width="0.22" fill="#46414f">2:1</text>
<text transform="translate(439.5 119.5) rotate(33) translate(-13.87 4.86) scale(0.880 1)" font-size="14.08" font-style="italic" letter-spacing="0.43" stroke="#46414f" stroke-width="0.22" fill="#46414f">R0.5</text>
<text transform="translate(509.8 146.5) rotate(33) translate(-13.87 4.86) scale(0.880 1)" font-size="14.08" font-style="italic" letter-spacing="0.43" stroke="#46414f" stroke-width="0.22" fill="#46414f">R0.5</text>
<text transform="translate(475.62 211.25) translate(-8 5) scale(0.859 1)" font-size="14.29" font-style="italic" stroke="#46414f" stroke-width="0.22" fill="#46414f">2:1</text>
<text transform="translate(584.4 103) rotate(38) translate(-13.87 4.86) scale(0.880 1)" font-size="14.08" font-style="italic" letter-spacing="0.43" stroke="#46414f" stroke-width="0.22" fill="#46414f">R0.5</text>
<text transform="translate(629 87.5) rotate(72) translate(-13.37 4.86) scale(0.880 1)" font-size="14.08" font-style="italic" letter-spacing="0.05" stroke="#46414f" stroke-width="0.22" fill="#46414f">R0.5</text>
<text transform="translate(579.75 141.7) rotate(-15) translate(-13.37 4.86) scale(0.880 1)" font-size="14.08" font-style="italic" letter-spacing="0.10" stroke="#46414f" stroke-width="0.22" fill="#46414f">R0.3</text>
<text transform="translate(577 166.25) rotate(-47) translate(-13.37 4.86) scale(0.880 1)" font-size="14.08" font-style="italic" letter-spacing="0.24" stroke="#46414f" stroke-width="0.22" fill="#46414f">R0.4</text>
<text transform="translate(629.5 174.7) translate(-10.81 5.15) scale(0.880 1)" font-size="14.93" font-style="italic" letter-spacing="1.21" stroke="#46414f" stroke-width="0.22" fill="#46414f">7.3</text>
<text transform="translate(697.7 89.2) rotate(-90) translate(-12.46 5.05) scale(0.872 1)" font-size="14.65" font-style="italic" stroke="#46414f" stroke-width="0.22" fill="#46414f">3.39</text>
<text transform="translate(672.75 139.6) rotate(-90) translate(-9.38 4.75) scale(0.880 1)" font-size="13.57" font-style="italic" letter-spacing="1.34" stroke="#46414f" stroke-width="0.22" fill="#46414f">2.2</text>
<text transform="translate(629.5 217.8) translate(-8.38 4.8) scale(0.880 1)" font-size="13.71" font-style="italic" letter-spacing="0.58" stroke="#46414f" stroke-width="0.22" fill="#46414f">2:1</text>
<text transform="translate(184.75 105.5) translate(-9.75 4.86) scale(0.880 1)" font-size="14.08" font-style="italic" letter-spacing="1.05" stroke="#46414f" stroke-width="0.22" fill="#46414f">0.3</text>
<text transform="translate(250.5 294.05) translate(-6.73 4.55) scale(0.880 1)" font-size="13.00" font-style="italic" letter-spacing="1.04" stroke="#46414f" stroke-width="0.22" fill="#46414f">14</text>
<text transform="translate(330.8 294.05) translate(-7.09 4.42) scale(0.880 1)" font-size="12.82" font-style="italic" letter-spacing="2.19" stroke="#46414f" stroke-width="0.22" fill="#46414f">29</text>
<text transform="translate(495.35 318.05) translate(-5.55 4.45) scale(0.797 1)" font-size="12.71" font-style="italic" stroke="#46414f" stroke-width="0.22" fill="#46414f">14</text>
<text transform="translate(153 413) rotate(-90) translate(-8 4.86) scale(0.880 1)" font-size="14.08" font-style="italic" letter-spacing="2.60" stroke="#46414f" stroke-width="0.22" fill="#46414f">43</text>
<text transform="translate(176.5 451) rotate(-90) translate(-12.87 5.35) scale(0.856 1)" font-size="15.49" font-style="italic" stroke="#46414f" stroke-width="0.22" fill="#46414f">22.5</text>
<text transform="translate(199.5 431) rotate(-90) translate(-9.18 4.62) scale(0.880 1)" font-size="13.38" font-style="italic" letter-spacing="0.43" stroke="#46414f" stroke-width="0.22" fill="#46414f">7.5</text>
<text transform="translate(199.5 468.5) rotate(-90) translate(-5.7 4.62) scale(0.757 1)" font-size="13.38" font-style="italic" stroke="#46414f" stroke-width="0.22" fill="#46414f">13</text>
<text transform="translate(304.85 385.25) translate(-12.39 4.62) scale(0.880 1)" font-size="13.38" font-style="italic" letter-spacing="0.60" stroke="#46414f" stroke-width="0.22" fill="#46414f">14.5</text>
<text transform="translate(370.25 395.5) rotate(90) translate(-8.5 5.83) scale(0.674 1)" font-size="16.90" font-style="italic" stroke="#46414f" stroke-width="0.22" fill="#46414f">45°</text>
<text transform="translate(408.5 377.75) translate(-10.73 4.62) scale(0.848 1)" font-size="13.38" font-style="italic" stroke="#46414f" stroke-width="0.22" fill="#46414f">13.1</text>
<text transform="translate(413.4 441.3) rotate(-90) translate(-7.72 4.61) scale(0.804 1)" font-size="13.57" font-style="italic" stroke="#46414f" stroke-width="0.22" fill="#46414f">1.5</text>
<text transform="translate(443 363.6) rotate(80) translate(-13.37 4.86) scale(0.880 1)" font-size="14.08" font-style="italic" letter-spacing="0.05" stroke="#46414f" stroke-width="0.22" fill="#46414f">R0.5</text>
<text transform="translate(459.3 432.4) rotate(55) translate(-13.37 4.86) scale(0.880 1)" font-size="14.08" font-style="italic" letter-spacing="0.05" stroke="#46414f" stroke-width="0.22" fill="#46414f">R0.5</text>
<text transform="translate(603.5 426.5) rotate(-90) translate(-12.76 5.35) scale(0.836 1)" font-size="15.49" font-style="italic" stroke="#46414f" stroke-width="0.22" fill="#46414f">36.5</text>
<text transform="translate(580 446.5) rotate(-90) translate(-12.37 5.35) scale(0.823 1)" font-size="15.49" font-style="italic" stroke="#46414f" stroke-width="0.22" fill="#46414f">25.5</text>
<text transform="translate(556.8 421) rotate(-90) translate(-9.24 4.86) scale(0.878 1)" font-size="14.08" font-style="italic" stroke="#46414f" stroke-width="0.22" fill="#46414f">7.5</text>
<text transform="translate(556.8 463) rotate(-90) translate(-5.18 4.86) scale(0.648 1)" font-size="14.08" font-style="italic" stroke="#46414f" stroke-width="0.22" fill="#46414f">16</text>
<text transform="translate(536 474.5) rotate(-90) translate(-5.7 4.13) scale(0.846 1)" font-size="11.97" font-style="italic" stroke="#46414f" stroke-width="0.22" fill="#46414f">10</text>
<text transform="translate(551.5 510.5) rotate(50) translate(-13.37 4.86) scale(0.880 1)" font-size="14.08" font-style="italic" letter-spacing="0.10" stroke="#46414f" stroke-width="0.22" fill="#46414f">R0.3</text>
<text transform="translate(281.25 437.25) translate(-12.13 4.62) scale(0.880 1)" font-size="13.38" font-style="italic" letter-spacing="0.72" stroke="#46414f" stroke-width="0.22" fill="#46414f">28.4</text>
<text transform="translate(373 460.65) translate(-7.25 4.81) scale(0.880 1)" font-size="13.94" font-style="italic" letter-spacing="0.62" stroke="#46414f" stroke-width="0.22" fill="#46414f">58</text>
<text transform="translate(372.5 516.5) translate(-7.62 4.37) scale(0.880 1)" font-size="12.68" font-style="italic" letter-spacing="2.02" stroke="#46414f" stroke-width="0.22" fill="#46414f">70</text>
<text transform="translate(372.3 542.9) translate(-13.25 4.96) scale(0.880 1)" font-size="14.37" font-style="italic" letter-spacing="0.61" stroke="#46414f" stroke-width="0.22" fill="#46414f">80.6</text>
<text transform="translate(376.75 833) translate(-9.53 5.5) scale(0.880 1)" font-size="15.94" font-style="italic" letter-spacing="0.20" stroke="#46414f" stroke-width="0.22" fill="#46414f">1:1</text>
<text transform="translate(634.12 841.2) translate(-18.73 3.93) scale(0.791 1)" font-size="11.07" font-weight="bold" fill="#46414f">出材壁厚:</text>
<text transform="translate(684.5 841.5) translate(-23.01 4.86) scale(0.905 1)" font-size="14.08" font-style="italic" stroke="#46414f" stroke-width="0.22" fill="#46414f">0.95mm</text>
<text transform="translate(709.75 843.5) translate(-3.94 -0) scale(0.825 1)" font-size="22.73" fill="#46414f">。</text>
</g>
</svg>
</body></html>
